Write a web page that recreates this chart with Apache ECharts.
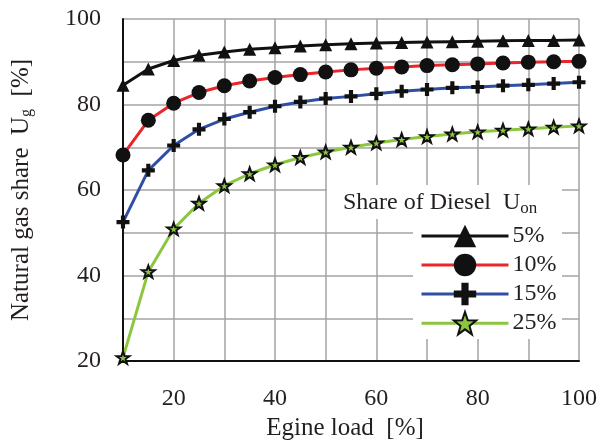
<!DOCTYPE html>
<html><head><meta charset="utf-8">
<script src="https://cdn.jsdelivr.net/npm/echarts@6/dist/echarts.min.js"></script>
<style>html,body{margin:0;padding:0;background:#fff}#c{width:600px;height:441px}</style>
</head><body><div id="c"></div>
<script>
const loads = [10,15,20,25,30,35,40,45,50,55,60,65,70,75,80,85,90,95,100];
const diesel5  = [84.5,88.3,90.3,91.5,92.3,92.9,93.3,93.7,94.0,94.2,94.4,94.5,94.6,94.7,94.8,94.9,95.0,95.0,95.1];
const diesel10 = [68.2,76.3,80.3,82.8,84.4,85.5,86.3,87.0,87.6,88.1,88.5,88.8,89.1,89.3,89.5,89.7,89.9,90.0,90.1];
const diesel15 = [52.5,64.6,70.4,74.2,76.6,78.2,79.6,80.6,81.4,81.9,82.5,83.1,83.5,83.9,84.1,84.4,84.6,84.9,85.2];
const diesel25 = [20.8,40.9,50.9,56.9,61.0,63.8,65.9,67.6,68.9,70.0,71.0,71.8,72.5,73.1,73.6,74.0,74.3,74.7,75.0];
const seriesNames = ['5%','10%','15%','25%'];
const xTicks = [20,40,60,80,100];
const yTicks = [20,40,60,80,100];

const FONT = 'Liberation Serif';
const TXT = '#231f20';
const STAR = 'path://M50 0L61.76 33.82L97.55 34.55L69.02 56.18L79.39 90.45L50 70L20.61 90.45L30.98 56.18L2.45 34.55L38.24 33.82Z';
const CROSS = 'path://M34 0H66V34H100V66H66V100H34V66H0V34H34Z';

function pair(arr){ return loads.map((x,i)=>[x,arr[i]]); }

const chart = echarts.init(document.getElementById('c'), null, {renderer:'canvas'});
chart.setOption({
  animation:false,
  backgroundColor:'#fff',
  grid:{left:123,right:21,top:19,bottom:80,containLabel:false,outerBoundsMode:'none'},
  xAxis:{type:'value',min:10,max:100,interval:10,
    name:'Egine load  [%]',nameLocation:'middle',nameGap:48,
    nameTextStyle:{fontFamily:FONT,fontSize:25,color:TXT,padding:[0,12,0,0]},
    axisLine:{show:true,lineStyle:{color:'#111',width:2}},
    axisTick:{show:false},
    axisLabel:{margin:26,fontFamily:FONT,fontSize:24,color:TXT,
      formatter:v=>xTicks.indexOf(v)>=0?String(v):''},
    splitLine:{show:true,lineStyle:{color:'#a3a3a3',width:1.5}}
  },
  yAxis:{type:'value',min:20,max:100,interval:10,
    name:'Natural gas share  U{s|g}  [%]',nameLocation:'middle',nameGap:88,nameRotate:90,
    nameTextStyle:{fontFamily:FONT,fontSize:25,color:TXT,
      rich:{s:{fontFamily:FONT,fontSize:16,color:TXT,verticalAlign:'bottom',padding:[11,0,0,0]}}},
    axisLine:{show:true,lineStyle:{color:'#111',width:2}},
    axisTick:{show:false},
    axisLabel:{margin:22,fontFamily:FONT,fontSize:24,color:TXT,
      formatter:v=>yTicks.indexOf(v)>=0?String(v):''},
    splitLine:{show:true,lineStyle:{color:'#a3a3a3',width:1.5}}
  },
  graphic:[
    {type:'rect',z:3,shape:{x:327,y:185,width:235,height:34},style:{fill:'#fff'}},
    {type:'rect',z:3,shape:{x:413,y:218,width:149,height:121},style:{fill:'#fff'}},
    {type:'text',z:4,left:343,top:191,style:{text:'Share of Diesel  U{s|on}',
      font:'24px '+FONT,fill:TXT,
      rich:{s:{fontFamily:FONT,fontSize:17,fill:TXT,verticalAlign:'bottom',padding:[12,0,0,0]}}}}
  ],
  legend:{orient:'vertical',left:415,top:219,itemWidth:87,itemHeight:28,itemGap:5,
    data:seriesNames,
    lineStyle:{width:3},
    textStyle:{fontFamily:FONT,fontSize:24,color:TXT,padding:[0,0,0,-1]}
  },
  series:[
    {name:'5%',type:'line',data:pair(diesel5),symbol:'triangle',symbolSize:13,
      lineStyle:{color:'#111',width:3},itemStyle:{color:'#111'}},
    {name:'10%',type:'line',data:pair(diesel10),symbol:'circle',symbolSize:15,
      lineStyle:{color:'#e8262b',width:3},itemStyle:{color:'#111'}},
    {name:'15%',type:'line',data:pair(diesel15),symbol:CROSS,symbolSize:13,symbolKeepAspect:true,
      lineStyle:{color:'#2e4fa3',width:3},itemStyle:{color:'#111'}},
    {name:'25%',type:'line',data:pair(diesel25),symbol:STAR,symbolSize:13,symbolKeepAspect:true,
      lineStyle:{color:'#8cc63f',width:3},itemStyle:{color:'#8cc63f',borderColor:'#111',borderWidth:2}}
  ]
});
</script></body></html>
